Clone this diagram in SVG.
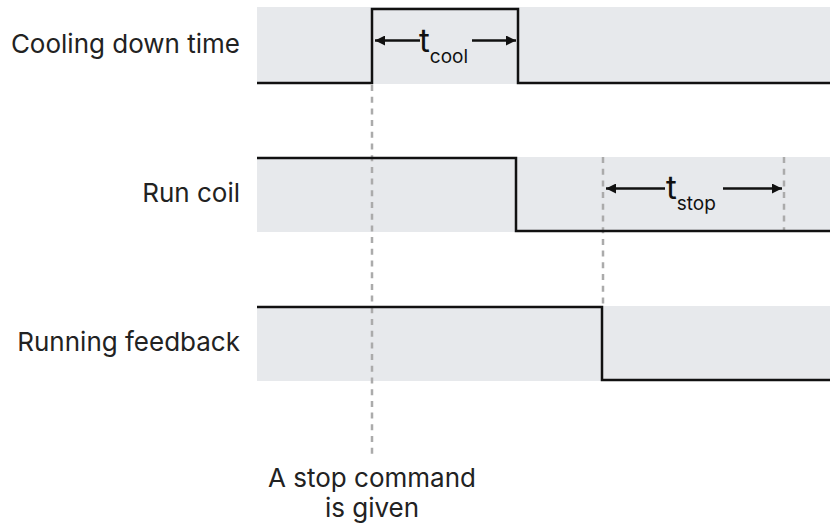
<svg xmlns="http://www.w3.org/2000/svg" width="830" height="528" viewBox="0 0 830 528">
  <defs>
    <marker id="arrow" viewBox="0 0 10 10" refX="10" refY="5" markerWidth="10" markerHeight="10" markerUnits="userSpaceOnUse" orient="auto-start-reverse">
      <path d="M0,0 L10,5 L0,10 Z" fill="#111"/>
    </marker>
  </defs>
  <style>
    .band { fill: #e7e9ec; }
    .wave { fill: none; stroke: #111; stroke-width: 2.5; stroke-linejoin: miter; }
    .guide { fill: none; stroke: #ababab; stroke-width: 2.5; stroke-dasharray: 6 5.7; }
    .span { fill: none; stroke: #111; stroke-width: 2.5; }
    .label { font-family: Inter, "Liberation Sans", sans-serif; font-size: 26px; fill: #222; }
    .t { font-family: Inter, "Liberation Sans", sans-serif; font-size: 33px; fill: #111; }
    .sub { font-size: 19px; }
  </style>

  <!-- signal lanes -->
  <g id="cooling-lane">
    <rect class="band" x="257" y="7" width="573" height="77"/>
    <text class="label" x="240" y="53" text-anchor="end">Cooling down time</text>
  </g>
  <g id="runcoil-lane">
    <rect class="band" x="257" y="157" width="573" height="75"/>
    <text class="label" x="240" y="202" text-anchor="end">Run coil</text>
  </g>
  <g id="feedback-lane">
    <rect class="band" x="257" y="306" width="573" height="75"/>
    <text class="label" x="240" y="351" text-anchor="end">Running feedback</text>
  </g>

  <!-- timing guides -->
  <g id="guides">
    <line class="guide" x1="372" y1="85" x2="372" y2="456"/>
    <line class="guide" x1="603" y1="157" x2="603" y2="306"/>
    <line class="guide" x1="784" y1="157" x2="784" y2="231"/>
  </g>

  <!-- waveforms -->
  <g id="connectors">
    <polyline class="wave" points="257,83 372,83 372,9 518,9 518,83 830,83"/>
    <polyline class="wave" points="257,158 516,158 516,231 830,231"/>
    <polyline class="wave" points="257,307 602,307 602,380 830,380"/>

    <line class="span" x1="420" y1="40.5" x2="375" y2="40.5" marker-end="url(#arrow)"/>
    <line class="span" x1="472" y1="40.5" x2="516" y2="40.5" marker-end="url(#arrow)"/>
    <line class="span" x1="665" y1="188.5" x2="606" y2="188.5" marker-end="url(#arrow)"/>
    <line class="span" x1="723" y1="188.5" x2="782" y2="188.5" marker-end="url(#arrow)"/>
  </g>

  <g id="tcool">
    <text class="t" x="419" y="52">t<tspan class="sub" dy="11">cool</tspan></text>
  </g>
  <g id="tstop">
    <text class="t" x="666" y="199">t<tspan class="sub" dy="11">stop</tspan></text>
  </g>

  <g id="stop-command">
    <text class="label" x="372" y="487" text-anchor="middle">A stop command</text>
    <text class="label" x="372" y="517" text-anchor="middle">is given</text>
  </g>
</svg>
